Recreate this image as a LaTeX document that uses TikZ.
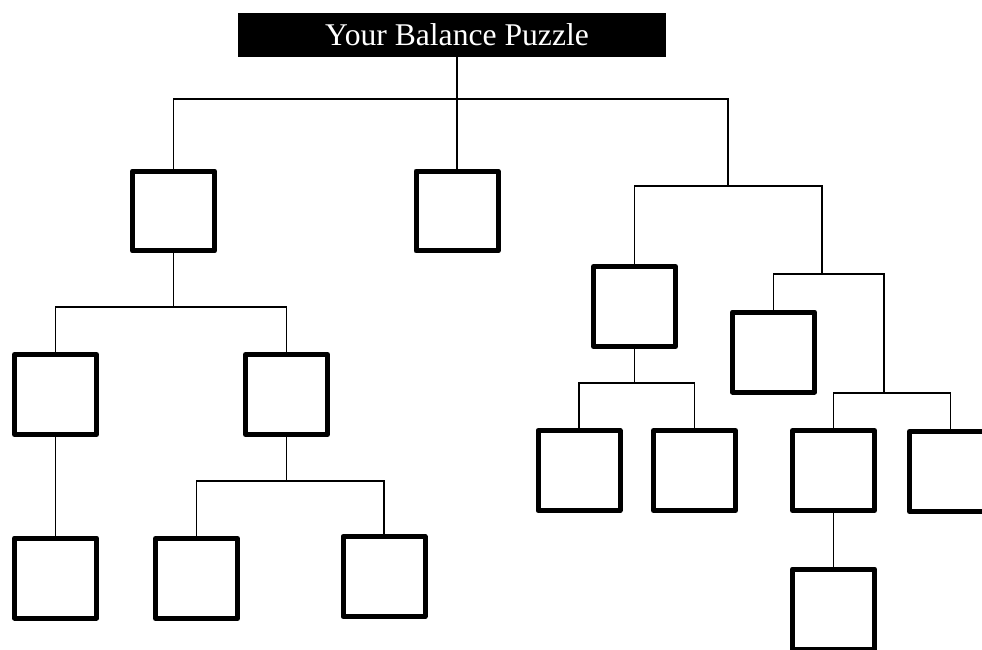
\documentclass[tikz,border=0pt]{standalone}
\usepackage{fontspec}
\setmainfont{Liberation Serif}
\usetikzlibrary{positioning}

\begin{document}
\begin{tikzpicture}[x=0.02cm, y=-0.02cm,
    pbox/.style={draw, line width=0.1cm, line join=round, minimum width=1.64cm, minimum height=1.6cm, inner sep=0pt},
    link/.style={line width=0.7pt}]
  \useasboundingbox (0,0) rectangle (982,649);
  \clip (0,0) rectangle (982,649);
  % Title bar
  \node[fill=black, text=white, minimum width=8.56cm, minimum height=0.88cm, inner sep=0pt,
    font=\fontsize{18}{20}\selectfont] (title) at (452,35) {\hspace*{0.2cm}Your Balance Puzzle};
  % Boxes
  \node[pbox] (a) at (173.5,211) {};
  \node[pbox] (b) at (457,211) {};
  \node[pbox] (c) at (634.5,306.5) {};
  \node[pbox] (d) at (773.5,352) {};
  \node[pbox] (a1) at (55.5,394.5) {};
  \node[pbox] (a2) at (286.5,394.5) {};
  \node[pbox] (a1a) at (55.5,578) {};
  \node[pbox] (a2a) at (196.5,578.5) {};
  \node[pbox] (a2b) at (384,576.5) {};
  \node[pbox] (c1) at (579,470.5) {};
  \node[pbox] (c2) at (694.5,470.5) {};
  \node[pbox] (d1) at (833.5,470.5) {};
  \node[pbox] (d2) at (950.5,471.5) {};
  \node[pbox] (d1a) at (833.5,609) {};
  % Junctions
  \coordinate (tj) at (728,99);
  \coordinate (rj) at (728,186);
  \coordinate (rk) at (822,186);
  \coordinate (dj) at (822,274);
  \coordinate (dk) at (884,274);
  \coordinate (ej) at (884,393);
  \coordinate (aj) at (173.5,307);
  \coordinate (a2j) at (286.5,481);
  \coordinate (cj) at (634.5,383);
  % Connectors
  \draw[link] (title.south -| b.north) -- (b.north);
  \draw[link] (a.north) |- (tj) -- (rj);
  \draw[link] (c.north) |- (rk) -- (dj);
  \draw[link] (d.north) |- (dk) -- (ej);
  \draw[link] (a.south) -- (aj);
  \draw[link] (a1.north) |- (aj) -| (a2.north);
  \draw[link] (a1.south) -- (a1a.north);
  \draw[link] (a2.south) -- (a2j);
  \draw[link] (a2a.north) |- (a2j) -| (a2b.north);
  \draw[link] (c.south) -- (cj);
  \draw[link] (c1.north) |- (cj) -| (c2.north);
  \draw[link] (d1.north) |- (ej) -| (d2.north);
  \draw[link] (d1.south) -- (d1a.north);
\end{tikzpicture}
\end{document}
